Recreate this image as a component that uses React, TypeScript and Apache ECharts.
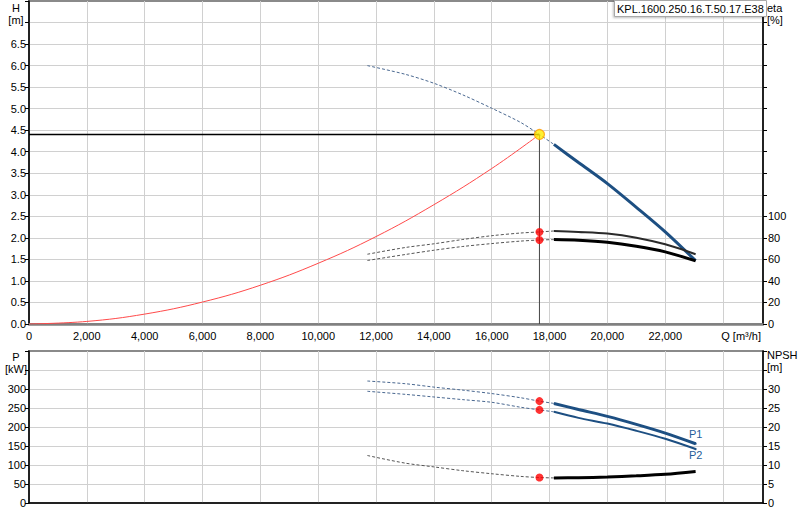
import { useEffect, useRef } from 'react';
import * as echarts from 'echarts';

// flow values where the curves are sampled [m³/h]
const qDashed = [11700, 13000, 14000, 15000, 16000, 17000, 17650, 18150];
const qSolid = [18150, 19000, 20000, 21000, 22000, 23050];

// head [m]
const hDashed = [6.0, 5.8, 5.59, 5.32, 5.01, 4.68, 4.4, 4.17];
const hSolid = [4.17, 3.75, 3.26, 2.71, 2.14, 1.47];

// efficiency [%]
const eta1Dashed = [64.8, 71, 74.5, 78.5, 82, 84.5, 85.5, 86.4];
const eta1Solid = [86.4, 85.5, 84, 80.2, 74, 64.8];
const eta2Dashed = [59, 64.5, 68.5, 72, 74.7, 77, 78, 78.4];
const eta2Solid = [78.4, 77.8, 75.9, 72.2, 67, 58.6];

// power [kW]
const p1Dashed = [321, 314, 305, 297, 288, 277, 268, 262];
const p1Solid = [262, 246, 228, 207, 184, 156];
const p2Dashed = [294, 286, 279, 272, 265, 252, 245, 240];
const p2Solid = [240, 224, 209, 190, 169, 142];

// NPSH [m]
const npshDashed = [12.5, 10.5, 9.5, 8.5, 7.7, 7.0, 6.7, 6.6];
const npshSolid = [6.6, 6.65, 6.85, 7.15, 7.55, 8.3];

// system curve
const qSystem = [0, 2000, 4000, 6000, 8000, 10000, 12000, 14000, 16000, 17650];
const hSystem = [0, 0.06, 0.23, 0.51, 0.9, 1.41, 2.03, 2.77, 3.61, 4.4];

// duty point
const dutyQ = 17650;
const dutyH = 4.4;
const dutyEta = [85.5, 78];
const dutyP = [268, 245];
const dutyNpsh = 6.7;

const pumpName = 'KPL.1600.250.16.T.50.17.E38';

const FONT = 'Liberation Sans, Arial, sans-serif';
const BLUE = '#1d4f82';
const LABEL_BLUE = '#1f5d9a';
const DASH_BLUE = '#4a6890';
const DASH_BLACK = '#555555';
const GRID = '#d0d0d0';

const zip = (xs: number[], ys: number[]) => xs.map((x, i) => [x, ys[i]]);

const dashed = (name: string, q: number[], v: number[], color: string, x: number, y: number) => ({
  name,
  type: 'line',
  xAxisIndex: x,
  yAxisIndex: y,
  data: zip(q, v),
  smooth: 0.3,
  symbol: 'none',
  lineStyle: { color, width: 1, type: [3, 2] },
  z: 3,
});

const solid = (name: string, q: number[], v: number[], color: string, width: number, x: number, y: number) => ({
  name,
  type: 'line',
  xAxisIndex: x,
  yAxisIndex: y,
  data: zip(q, v) as any[],
  smooth: 0.3,
  symbol: 'none',
  lineStyle: { color, width },
  z: 4,
});

// tag the last point of a curve with a text label
const endTag = (data: number[][], text: string, position: string, dy: number) =>
  data.map((d, i) =>
    i === data.length - 1
      ? {
          value: d,
          symbol: 'circle',
          symbolSize: 2,
          itemStyle: { color: BLUE },
          label: {
            show: true,
            position,
            distance: 3,
            offset: [0, dy],
            formatter: text,
            color: LABEL_BLUE,
            fontSize: 11,
            fontFamily: FONT,
          },
        }
      : d,
  );

const dot = (q: number, v: number, x: number, y: number) => ({
  type: 'scatter',
  xAxisIndex: x,
  yAxisIndex: y,
  data: [[q, v]],
  symbol: 'circle',
  symbolSize: 8,
  itemStyle: { color: '#ff0000' },
  z: 6,
});

const xAxisBase = {
  type: 'value',
  min: 0,
  max: 25380,
  interval: 2000,
  axisTick: { show: false },
  splitLine: { show: true, showMinLine: false, showMaxLine: false, lineStyle: { color: GRID, width: 1 } },
};

const yAxisBase = (min: number, max: number, interval: number, limit: number, decimals: number, right: boolean, grid: boolean) => ({
  type: 'value',
  min,
  max,
  interval,
  position: right ? 'right' : 'left',
  axisLine: { show: true, onZero: false, lineStyle: { color: '#000', width: 1.5 } },
  axisTick: { show: true, length: 4, lineStyle: { color: '#000' } },
  axisLabel: {
    margin: right ? 5 : 3,
    fontSize: 11,
    fontFamily: FONT,
    color: '#000',
    formatter: (v: number) => (v > limit + 1e-9 ? '' : v.toFixed(decimals)),
  },
  splitLine: {
    show: grid,
    showMinLine: false,
    showMaxLine: false,
    lineStyle: { color: GRID, width: 1 },
  },
});

export default function App() {
  const ref = useRef<HTMLDivElement>(null);

  useEffect(() => {
    if (!ref.current) return;
    const chart = echarts.init(ref.current, undefined, { renderer: 'svg' });

    const option = {
      animation: false,
      backgroundColor: '#fff',
      textStyle: { fontFamily: FONT },
      title: {
        text: pumpName,
        left: 614,
        top: 0,
        padding: [3, 3, 3, 3],
        backgroundColor: '#fff',
        borderColor: '#a8a8a8',
        borderWidth: 1,
        shadowColor: 'rgba(0,0,0,0.25)',
        shadowOffsetX: -1,
        shadowOffsetY: 1,
        shadowBlur: 2,
        textStyle: { fontSize: 11, fontWeight: 'normal', fontFamily: FONT, color: '#000' },
        z: 10,
      },
      graphic: [
        { type: 'text', x: 16, y: 2, style: { text: 'H\n[m]', textAlign: 'center', font: `11px ${FONT}`, fill: '#000', lineHeight: 12 } },
        { type: 'text', x: 767, y: 2, style: { text: 'eta\n[%]', textAlign: 'left', font: `11px ${FONT}`, fill: '#000', lineHeight: 12 } },
        { type: 'text', x: 16, y: 351, style: { text: 'P\n[kW]', textAlign: 'center', font: `11px ${FONT}`, fill: '#000', lineHeight: 12 } },
        { type: 'text', x: 767, y: 349, style: { text: 'NPSH\n[m]', textAlign: 'left', font: `11px ${FONT}`, fill: '#000', lineHeight: 12 } },
      ],
      grid: [
        { left: 29, right: 37, top: 1, height: 323, show: true, borderColor: '#8a8a8a', borderWidth: 2, backgroundColor: '#fff' },
        { left: 29, right: 37, top: 351, height: 152, show: true, borderColor: '#8a8a8a', borderWidth: 2, backgroundColor: '#fff' },
      ],
      xAxis: [
        {
          ...xAxisBase,
          gridIndex: 0,
          axisLine: { show: true, lineStyle: { color: '#808080', width: 2.5 } },
          axisLabel: {
            margin: 6,
            fontSize: 11,
            fontFamily: FONT,
            color: '#000',
            formatter: (v: number) => {
              if (v === 24000) return '{q|Q [m³/h]}';
              if (v % 2000 !== 0) return '';
              return v.toLocaleString('en-US');
            },
            rich: { q: { fontSize: 11, fontFamily: FONT, color: '#000', padding: [0, 0, 0, 36] } },
          },
        },
        {
          ...xAxisBase,
          gridIndex: 1,
          axisLine: { show: true, lineStyle: { color: '#000', width: 1.5 } },
          axisLabel: { show: false },
        },
      ],
      yAxis: [
        { ...yAxisBase(0, 7.5, 0.5, 6.5, 1, false, true), gridIndex: 0 },
        { ...yAxisBase(0, 300, 20, 100, 0, true, false), gridIndex: 0 },
        { ...yAxisBase(0, 400, 50, 300, 0, false, true), gridIndex: 1 },
        { ...yAxisBase(0, 40, 5, 30, 0, true, false), gridIndex: 1 },
      ],
      series: [
        // system curve
        {
          name: 'system',
          type: 'line',
          xAxisIndex: 0,
          yAxisIndex: 0,
          data: zip(qSystem, hSystem),
          smooth: 0.4,
          symbol: 'none',
          lineStyle: { color: '#ff4a4a', width: 1 },
          z: 2,
        },
        // duty lines
        {
          type: 'line',
          xAxisIndex: 0,
          yAxisIndex: 0,
          data: [[0, dutyH], [dutyQ, dutyH]],
          symbol: 'none',
          lineStyle: { color: '#000', width: 1.5 },
          z: 2,
        },
        {
          type: 'line',
          xAxisIndex: 0,
          yAxisIndex: 0,
          data: [[dutyQ, dutyH], [dutyQ, 0]],
          symbol: 'none',
          lineStyle: { color: '#444', width: 1 },
          z: 2,
        },
        dashed('H', qDashed, hDashed, DASH_BLUE, 0, 0),
        solid('H', qSolid, hSolid, BLUE, 3, 0, 0),
        dashed('eta1', qDashed, eta1Dashed, DASH_BLACK, 0, 1),
        solid('eta1', qSolid, eta1Solid, '#2a2a2a', 2, 0, 1),
        dashed('eta2', qDashed, eta2Dashed, DASH_BLACK, 0, 1),
        solid('eta2', qSolid, eta2Solid, '#000', 3, 0, 1),
        dot(dutyQ, dutyEta[0], 0, 1),
        dot(dutyQ, dutyEta[1], 0, 1),
        {
          type: 'scatter',
          xAxisIndex: 0,
          yAxisIndex: 0,
          data: [[dutyQ, dutyH]],
          symbol: 'circle',
          symbolSize: 10,
          itemStyle: { color: '#ffee00', borderColor: '#ff9a00', borderWidth: 1.2 },
          z: 7,
        },
        // power and NPSH
        dashed('P1', qDashed, p1Dashed, DASH_BLUE, 1, 2),
        {
          ...solid('P1', qSolid, p1Solid, BLUE, 3, 1, 2),
          data: endTag(zip(qSolid, p1Solid), 'P1', 'top', 0),
        },
        dashed('P2', qDashed, p2Dashed, DASH_BLUE, 1, 2),
        {
          ...solid('P2', qSolid, p2Solid, BLUE, 2, 1, 2),
          data: endTag(zip(qSolid, p2Solid), 'P2', 'bottom', -4),
        },
        dashed('NPSH', qDashed, npshDashed, DASH_BLACK, 1, 3),
        solid('NPSH', qSolid, npshSolid, '#000', 3, 1, 3),
        dot(dutyQ, dutyP[0], 1, 2),
        dot(dutyQ, dutyP[1], 1, 2),
        dot(dutyQ, dutyNpsh, 1, 3),
      ],
    };

    chart.setOption(option as any);
    return () => chart.dispose();
  }, []);

  return (
    <div
      ref={ref}
      style={{ position: 'fixed', left: 0, top: 0, width: 800, height: 520, background: '#fff' }}
    />
  );
}
